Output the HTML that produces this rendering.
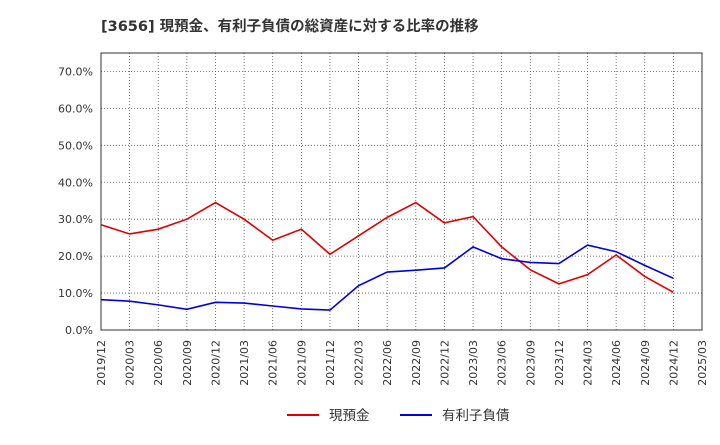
<!DOCTYPE html>
<html><head><meta charset="utf-8"><style>
body{margin:0;background:#fff;width:720px;height:440px;overflow:hidden}
svg text{font-family:"DejaVu Sans","Noto Sans CJK JP",sans-serif}
</style></head><body>
<svg id="c" width="720" height="440">
<text x="101" y="31" font-size="14.5" font-weight="bold" fill="#333">[3656]  現預金、有利子負債の総資産に対する比率の推移</text>
</svg>
<script>
const categories=["2019/12","2020/03","2020/06","2020/09","2020/12","2021/03","2021/06","2021/09","2021/12","2022/03","2022/06","2022/09","2022/12","2023/03","2023/06","2023/09","2023/12","2024/03","2024/06","2024/09","2024/12","2025/03"];
const cashValues=[28.5,26.0,27.3,30.0,34.5,30.0,24.3,27.3,20.5,25.5,30.5,34.5,29.0,30.7,22.5,16.3,12.5,15.0,20.3,14.5,10.2];
const debtValues=[8.2,7.8,6.8,5.6,7.5,7.3,6.5,5.7,5.4,12.0,15.7,16.2,16.8,22.5,19.3,18.3,18.0,23.0,21.2,17.5,14.0];
const yTicks=[0,10,20,30,40,50,60,70];
const svg=document.getElementById('c');
const NS='http://www.w3.org/2000/svg';
const L=101,R=702,T=53,B=330,yMax=75;
const xs=i=>L+(R-L)*i/(categories.length-1);
const ys=v=>B-(B-T)*v/yMax;
function mk(t,a){const e=document.createElementNS(NS,t);for(const k in a)e.setAttribute(k,a[k]);svg.appendChild(e);return e;}
categories.forEach((c,i)=>{
 const g=mk('line',{x1:xs(i),x2:xs(i),y1:T,y2:B,stroke:'#555','stroke-width':0.8,'stroke-dasharray':'1,2'});
 
 
 const x=xs(i),t=mk('text',{x:x,y:B+6,'font-size':11,fill:'#333','text-anchor':'end',transform:`rotate(-90 ${x+4} ${B+6})`});
 t.textContent=c;
 
 
});
yTicks.forEach(v=>{
 const g=mk('line',{x1:L,x2:R,y1:ys(v),y2:ys(v),stroke:'#555','stroke-width':0.8,'stroke-dasharray':'1,2'});
 
 
 const t=mk('text',{x:L-8,y:ys(v)+4,'font-size':11,fill:'#333','text-anchor':'end'});
 t.textContent=v.toFixed(1)+'%';
 
 
});
const fr=mk('rect',{x:L,y:T,width:R-L,height:B-T,fill:'none',stroke:'#333','stroke-width':1});


function line(vals,col,name){
 const p=mk('polyline',{points:vals.map((v,i)=>xs(i)+','+ys(v)).join(' '),fill:'none',stroke:col,'stroke-width':1.6});
 
 
}
line(cashValues,'#e00000','cash-line');
line(debtValues,'#0000e0','debt-line');
function leg(x,col,label,name){
 const l=mk('line',{x1:x,x2:x+32,y1:415,y2:415,stroke:col,'stroke-width':2});
 
 
 const t=mk('text',{x:x+42,y:420,'font-size':13.5,fill:'#333'});
 t.textContent=label;
 
 
}
leg(287,'#e00000','現預金','legend-cash');
leg(400,'#0000e0','有利子負債','legend-debt');
</script>
</body></html>
